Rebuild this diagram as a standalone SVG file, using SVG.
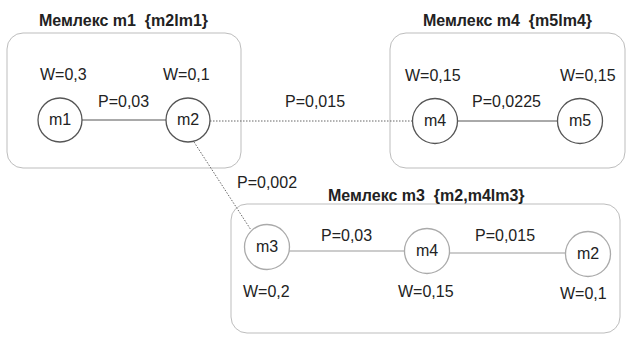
<svg xmlns="http://www.w3.org/2000/svg" width="627" height="343" viewBox="0 0 627 343">
<style>
text{font-family:"Liberation Sans",Arial,Helvetica,sans-serif;fill:#222}
.t{font-size:16px;font-weight:bold}
.l{font-size:16px}
.n{font-size:16px;text-anchor:middle}
.box{fill:none;stroke:#bdbdbd;stroke-width:1}
.c1{fill:#fff;stroke:#555;stroke-width:1.3}
.c2{fill:#fff;stroke:#aaa;stroke-width:1.3}
.e1{stroke:#555;stroke-width:1;fill:none}
.e2{stroke:#999;stroke-width:1;fill:none}
.d{stroke:#666;stroke-width:1;stroke-dasharray:1.5 1.5;fill:none}
</style>
<rect width="627" height="343" fill="#fff"/>
<g id="memlex1">
<rect class="box" x="7" y="33" width="234" height="135" rx="16"/>
<text class="t" x="39" y="26" xml:space="preserve">Мемлекс m1  {m2lm1}</text>
<text class="l" x="40" y="80">W=0,3</text>
<text class="l" x="163" y="80">W=0,1</text>
<text class="l" x="98" y="107">P=0,03</text>
</g>
<g id="memlex4">
<rect class="box" x="390" y="33" width="235" height="135" rx="16"/>
<text class="t" x="423" y="26" xml:space="preserve">Мемлекс m4  {m5lm4}</text>
<text class="l" x="405" y="81">W=0,15</text>
<text class="l" x="560" y="81">W=0,15</text>
<text class="l" x="472" y="107">P=0,0225</text>
</g>
<g id="memlex3">
<rect class="box" x="231" y="204" width="389" height="129" rx="16"/>
<text class="t" x="328" y="201" xml:space="preserve">Мемлекс m3  {m2,m4lm3}</text>
<text class="l" x="321" y="241">P=0,03</text>
<text class="l" x="475" y="241">P=0,015</text>
<text class="l" x="243" y="297">W=0,2</text>
<text class="l" x="398" y="297">W=0,15</text>
<text class="l" x="560" y="299">W=0,1</text>
</g>
<g id="connectors">
<line class="e1" x1="82" y1="120" x2="166" y2="120"/>
<line class="e1" x1="457" y1="121" x2="558" y2="121"/>
<line class="e2" x1="289" y1="251" x2="405" y2="251"/>
<line class="e2" x1="449" y1="253" x2="566" y2="253"/>
<line class="d" x1="210" y1="121" x2="413" y2="121"/>
<line class="d" x1="194" y1="142" x2="251" y2="230"/>
<text class="l" x="285" y="107">P=0,015</text>
<text class="l" x="237" y="188">P=0,002</text>
</g>
<g id="m1"><circle class="c1" cx="60" cy="120" r="22"/><text class="n" x="60" y="125">m1</text></g>
<g id="m2"><circle class="c1" cx="188" cy="120" r="22"/><text class="n" x="188" y="125">m2</text></g>
<g id="m4"><circle class="c1" cx="435" cy="121" r="22.5"/><text class="n" x="435" y="126">m4</text></g>
<g id="m5"><circle class="c1" cx="580" cy="121" r="22.5"/><text class="n" x="580" y="126">m5</text></g>
<g id="m3"><circle class="c2" cx="267" cy="247" r="22.5"/><text class="n" x="267" y="252">m3</text></g>
<g id="m4b"><circle class="c2" cx="427" cy="251" r="22.5"/><text class="n" x="427" y="256">m4</text></g>
<g id="m2b"><circle class="c2" cx="588" cy="254" r="22.5"/><text class="n" x="588" y="259">m2</text></g>
</svg>
